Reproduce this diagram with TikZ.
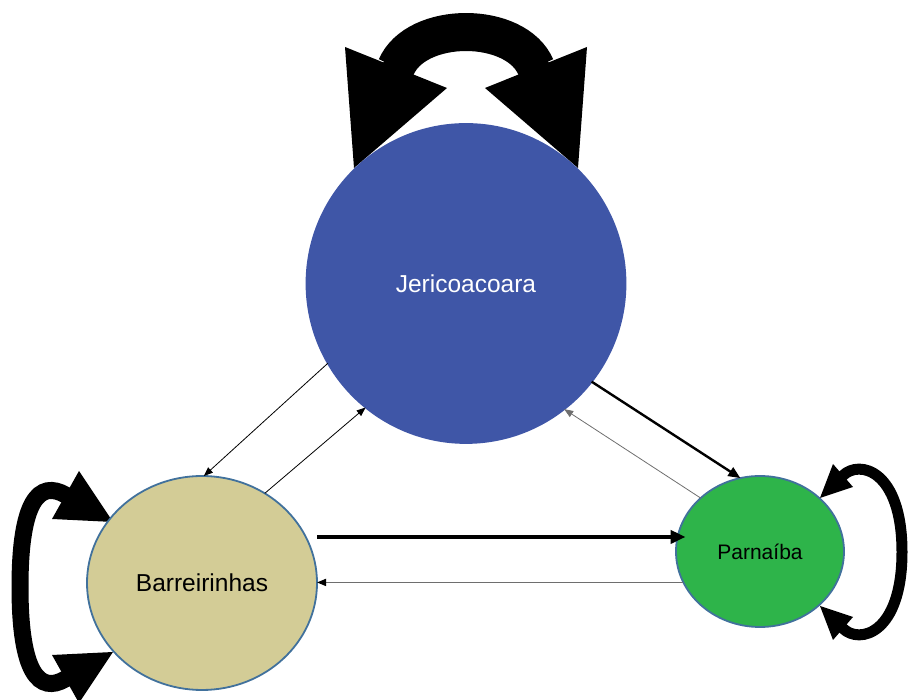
\documentclass[tikz,border=0pt]{standalone}
\usepackage{fontspec}
\setmainfont{Liberation Sans}
\usetikzlibrary{arrows.meta,shapes.geometric,calc}

\definecolor{jerblue}{RGB}{63,86,167}
\definecolor{bartan}{RGB}{211,204,150}
\definecolor{pargreen}{RGB}{46,180,74}
\definecolor{cityedge}{RGB}{65,113,156}
\definecolor{linkgrey}{RGB}{110,110,110}

\begin{document}
\begin{tikzpicture}[x=1pt,y=1pt,
  city/.style={ellipse, inner sep=0pt, outer sep=0pt, draw=cityedge, line width=1.8pt},
  band/.style={draw=black, line cap=butt},
  head/.style={fill=black},
  thinlink/.style={draw=black, line width=0.8pt, -{Triangle[length=9pt,width=7pt]}},
  greylink/.style={draw=linkgrey, line width=1.6pt, -{Triangle[length=9pt,width=7pt,color=black,fill=black]}},
  midlink/.style={draw=black, line width=2.4pt, -{Triangle[length=12pt,width=10pt]}},
  boldlink/.style={draw=black, line width=4pt, -{Triangle[length=15pt,width=13pt]}}]

\useasboundingbox (0,0) rectangle (908,700);

% centres of the three places
\coordinate (J) at (466,416.5);
\coordinate (B) at (202,117);
\coordinate (P) at (760,148.5);

% self-loop above Jericoacoara
\begin{scope}[shift={(J)}]
  \draw[band, line width=38pt] (-74,225) -- (-70,216) .. controls (-50.3,263.3) and (50.3,263.3) .. (70,216) -- (74,225);
  \fill[head] (-121,236.5) -- (-19,195.5) -- (-112,115.5) -- cycle;
  \fill[head] (121,236.5) -- (19,195.5) -- (112,115.5) -- cycle;
\end{scope}

% self-loop left of Barreirinhas
\begin{scope}[shift={(B)}]
  \draw[band, line width=17pt] (-132,85.5) -- (-136.5,88) .. controls (-162.5,103) and (-182,83) .. (-182,-4)
        .. controls (-182,-91) and (-162.5,-111) .. (-136.5,-96) -- (-132,-93.5);
  \fill[head] (-123,112) -- (-150,64) -- (-89,61) -- cycle;
  \fill[head] (-123,-120) -- (-150,-72) -- (-89,-69) -- cycle;
\end{scope}

% self-loop right of Parnaíba
\begin{scope}[shift={(P)}]
  \draw[band, line width=11pt] (79,72) -- (83,76) .. controls (99.4,92.1) and (142,81.5) .. (142,-0.5)
        .. controls (142,-82.5) and (99.4,-93.1) .. (83,-77) -- (79,-73);
  \fill[head] (73,87.5) -- (93,64.5) -- (60,53.5) -- cycle;
  \fill[head] (73,-88.5) -- (93,-65.5) -- (60,-54.5) -- cycle;
\end{scope}

% places
\node[city, draw=jerblue, fill=jerblue, minimum width=319pt, minimum height=319pt,
      text=white, font=\fontsize{24.5}{29}\selectfont] (jer) at (J) {Jericoacoara};
\node[city, fill=bartan, minimum width=230pt, minimum height=214pt,
      font=\fontsize{24.5}{29}\selectfont] (bar) at (B) {Barreirinhas};
\node[city, fill=pargreen, minimum width=168pt, minimum height=151pt,
      font=\fontsize{21}{25}\selectfont] (par) at (P) {Parnaíba};

% links between places
\draw[thinlink] (jer.210.9) -- (bar.89.5);
\draw[thinlink] (bar.55) -- (jer.231.6);
\draw[midlink] (jer.322.4) -- (par.105);
\draw[thinlink, draw=linkgrey] (par.138.3) -- (jer.308.1);
\draw[boldlink, shorten >=-8pt] (bar.east |- par.170.5) -- (par.170.5);
\draw[greylink] (par.202.5) -- (par.202.5 -| bar.east);

\end{tikzpicture}
\end{document}
